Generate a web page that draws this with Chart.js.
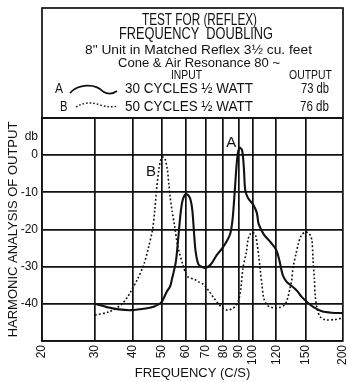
<!DOCTYPE html>
<html><head><meta charset="utf-8">
<script src="https://cdn.jsdelivr.net/npm/chart.js@4"></script>
<style>html,body{margin:0;padding:0;background:#fff}canvas{display:block}</style>
</head><body>
<canvas id="c" width="347" height="382"></canvas>
<script>
// ---- data ----
const xTicks = [20, 30, 40, 50, 60, 70, 80, 90, 100, 120, 150, 200];
const xTickLabels = ['20', '30', '40', '50', '60', '70', '80', '90', '100', '120', '150', '200'];
const yTicks = [-50, -40, -30, -20, -10, 0, 5, 10];
const yTickLabels = ['', '-40', '-30', '-20', '-10', '0', 'db', ''];

const freqA = [30, 33.3, 36, 39.5, 44.7, 46.9, 49.8, 51.9, 53.3, 54.1, 55.6, 56.4, 57.2, 58, 58.8, 60, 61.2, 62.3, 63.2, 64, 64.8, 66.2, 68.4, 70, 72.6, 76.1, 79, 82, 84.5, 86, 87.5, 89, 90.5, 92.4, 93.7, 94.7, 96.8, 100.8, 103.5, 104.9, 109.1, 115.1, 120, 122.9, 126.2, 130, 133.1, 140.4, 146.1, 151.9, 159.7, 170.2, 183.6, 200];
const dbA   = [-40, -41, -41.5, -41.7, -41.2, -40.8, -39.6, -36.8, -35.3, -33.2, -29, -24.5, -19, -14.3, -11.8, -10.5, -10.8, -12, -15, -21, -26, -29.4, -30.2, -30.3, -29.5, -26.9, -25.3, -23.3, -21, -17, -9, -1, 2, 1.4, -3.5, -9.5, -11.6, -13.4, -15.6, -18.5, -21.3, -23.5, -25.5, -28.3, -32.3, -34.1, -34.8, -36.4, -38.2, -39.5, -40.9, -42, -42.4, -42.5];

const freqB = [30, 33.3, 36.7, 38.6, 39.5, 41.5, 43.6, 45.2, 46.6, 47.4, 48, 49, 49.8, 50.4, 51.2, 52.2, 52.8, 53.3, 54.1, 55.1, 56.5, 58.8, 60.4, 61.2, 64.5, 66.2, 68.9, 71.6, 74.3, 77.1, 80, 83, 86.1, 88, 90, 91.5, 93, 95.5, 96.8, 98.4, 100.4, 102.4, 103.5, 104.9, 106.2, 107.6, 109.1, 111.7, 115.1, 119.7, 122.9, 127.9, 131, 133.1, 134.9, 136.6, 139.6, 142.2, 145.3, 150, 153.4, 155.8, 157.8, 159, 160.6, 161.8, 164.3, 168, 174.5, 188.2, 200];
const dbB   = [-43, -42.2, -40.2, -38, -36.6, -33.4, -29.4, -24.7, -20, -14.8, -9.6, -3.3, -0.8, -0.5, -0.9, -4, -8, -11.2, -15, -18.8, -24.5, -29.6, -32.3, -32.8, -33.5, -34.1, -34.8, -36.5, -38.3, -40, -41.2, -41.7, -41.2, -40.5, -39, -36, -30.5, -26, -22.6, -21.2, -20.8, -21.5, -23.5, -27, -30.8, -35, -38.5, -40.3, -40.9, -41.2, -41, -40.3, -38.5, -36, -34, -30.1, -26.5, -23.8, -21.6, -20.7, -20.9, -21.6, -23, -28, -33, -38, -41.5, -43.5, -44.3, -44.2, -43.8];

const curveLabels = ['A', 'B'];
const curveLabelPos = [[85, 3.2], [46, -4.4]];

const headerTitle = ['TEST FOR (REFLEX)', 'FREQUENCY  DOUBLING'];
const headerSub = ['8" Unit in Matched Reflex 3½ cu. feet', 'Cone & Air Resonance 80 ~'];
const colHeads = ['INPUT', 'OUTPUT'];
const inputs = ['30 CYCLES ½ WATT', '50 CYCLES ½ WATT'];
const outputs = ['73 db', '76 db'];

const xTitle = 'FREQUENCY (C/S)';
const yTitle = 'HARMONIC ANALYSIS OF OUTPUT';

// ---- drawing ----
const INK = '#111';
const FAM = '"Liberation Sans Narrow", "Liberation Sans", Arial, sans-serif';
const TFAM = '"Liberation Sans", Arial, sans-serif';

function fitText(ctx, text, left, cy, width, size) {
  ctx.save();
  ctx.font = size + 'px ' + FAM;
  const w = ctx.measureText(text).width;
  ctx.translate(left, cy);
  ctx.scale(width / w, 1);
  ctx.textAlign = 'left';
  ctx.textBaseline = 'middle';
  ctx.fillStyle = INK;
  ctx.fillText(text, 0, 0);
  ctx.restore();
}

const headerPlugin = {
  id: 'header',
  afterDraw(chart) {
    const ctx = chart.ctx;
    const ca = chart.chartArea;
    ctx.save();
    ctx.strokeStyle = INK;
    ctx.lineWidth = 1.7;
    ctx.strokeRect(ca.left, 8, ca.right - ca.left, ca.top - 8);

    fitText(ctx, headerTitle[0], 142, 21, 115, 16);
    fitText(ctx, headerTitle[1], 119, 34.5, 154, 16);
    fitText(ctx, headerSub[0], 85, 50, 227, 13.5);
    fitText(ctx, headerSub[1], 118, 63, 162, 13.5);
    fitText(ctx, colHeads[0], 171, 75, 31, 13.5);
    fitText(ctx, colHeads[1], 289, 75, 43, 13.5);

    fitText(ctx, curveLabels[0], 55, 89, 8, 15);
    fitText(ctx, inputs[0], 125, 89, 128, 15);
    fitText(ctx, outputs[0], 301, 89, 28, 15);
    fitText(ctx, curveLabels[1], 60, 106.5, 7.5, 15);
    fitText(ctx, inputs[1], 125, 106.5, 128, 15);
    fitText(ctx, outputs[1], 300, 106.5, 29, 15);

    // legend line samples
    ctx.strokeStyle = INK;
    ctx.lineWidth = 1.8;
    ctx.beginPath();
    ctx.moveTo(70, 93);
    ctx.bezierCurveTo(78, 84, 95, 83, 103, 91.5);
    ctx.quadraticCurveTo(110, 96, 117, 91);
    ctx.stroke();
    ctx.lineWidth = 1.4;
    ctx.setLineDash([1.6, 2]);
    ctx.beginPath();
    ctx.moveTo(76, 107);
    ctx.bezierCurveTo(84, 102, 92, 102, 100, 105);
    ctx.quadraticCurveTo(110, 108, 118, 106);
    ctx.stroke();
    ctx.setLineDash([]);

    // curve labels on the plot
    const xs = chart.scales.x, ys = chart.scales.y;
    ctx.font = '15px ' + FAM;
    ctx.fillStyle = INK;
    ctx.textAlign = 'center';
    ctx.textBaseline = 'middle';
    curveLabels.forEach((t, i) => {
      ctx.fillText(t, xs.getPixelForValue(curveLabelPos[i][0]), ys.getPixelForValue(curveLabelPos[i][1]));
    });
    ctx.restore();
  }
};

const ptsA = freqA.map((f, i) => ({ x: f, y: dbA[i] }));
const ptsB = freqB.map((f, i) => ({ x: f, y: dbB[i] }));

new Chart(document.getElementById('c'), {
  type: 'line',
  data: {
    datasets: [
      { label: 'A', data: ptsA, borderColor: INK, borderWidth: 2.1, pointRadius: 0, tension: 0.3, fill: false },
      { label: 'B', data: ptsB, borderColor: INK, borderWidth: 1.6, borderDash: [1.8, 2.2], pointRadius: 0, tension: 0.3, fill: false }
    ]
  },
  options: {
    responsive: false,
    animation: false,
    devicePixelRatio: 1,
    layout: { padding: { top: 118, right: 4, left: 0, bottom: 0 } },
    plugins: { legend: { display: false }, tooltip: { enabled: false } },
    scales: {
      x: {
        type: 'logarithmic', min: 20, max: 200,
        afterBuildTicks: s => { s.ticks = xTicks.map(v => ({ value: v })); },
        afterFit: s => { s.height = 41; s.paddingLeft = 0; s.paddingRight = 0; },
        ticks: {
          autoSkip: false, minRotation: 90, maxRotation: 90, padding: 4, color: INK,
          font: { size: 12, family: TFAM },
          callback: v => { const i = xTicks.indexOf(v); return i >= 0 ? xTickLabels[i] : ''; }
        },
        grid: { color: INK, lineWidth: 1.7, drawTicks: false },
        border: { color: INK, width: 1.7 },
        title: { display: true, text: xTitle, color: INK, font: { size: 13, family: FAM }, padding: { top: 0, bottom: 1 } }
      },
      y: {
        min: -50, max: 10,
        afterBuildTicks: s => { s.ticks = yTicks.map(v => ({ value: v })); },
        afterFit: s => { s.width = 42; s.paddingTop = 0; s.paddingBottom = 0; },
        ticks: {
          autoSkip: false, padding: 4, color: INK,
          font: { size: 12, family: TFAM },
          callback: v => { const i = yTicks.indexOf(v); return i >= 0 ? yTickLabels[i] : ''; }
        },
        grid: {
          color: c => (c.tick && c.tick.value === 5) ? 'rgba(0,0,0,0)' : INK,
          lineWidth: 1.7, drawTicks: false
        },
        border: { color: INK, width: 1.7 },
        title: { display: true, text: yTitle, color: INK, font: { size: 13, family: FAM }, padding: { top: 6, bottom: 0 } }
      }
    }
  },
  plugins: [headerPlugin]
});
</script>
</body></html>
